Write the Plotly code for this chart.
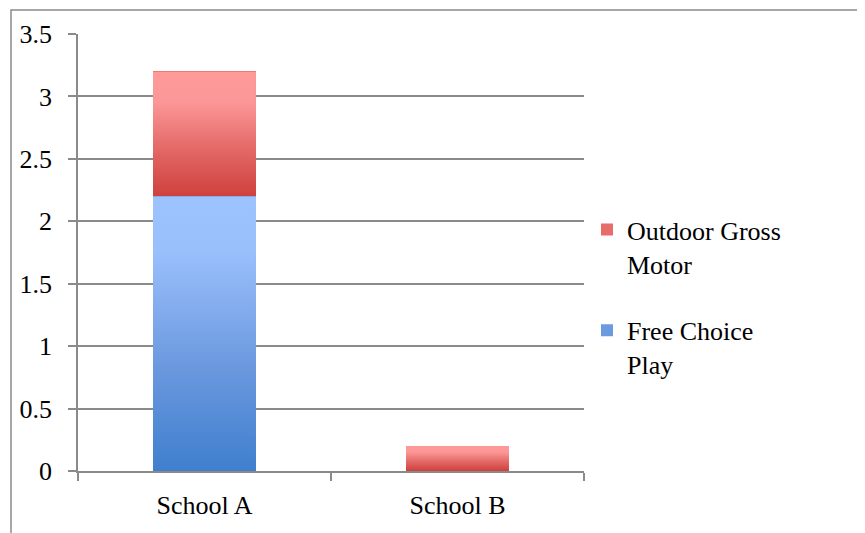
import base64
import plotly.graph_objects as go

# ---- data ----
categories = ["School A", "School B"]
free_choice_play = [2.2, 0.0]
outdoor_gross_motor = [1.0, 0.2]
legend_labels = ["Free Choice<br>Play", "Outdoor Gross<br>Motor"]
y_ticks = [0, 0.5, 1, 1.5, 2, 2.5, 3, 3.5]

# ---- style ----
FONT = "Liberation Serif"
FS = 26
GRID = "#8a8a8a"
BARGAP = 0.593
blue_mid, red_mid = "#6b9ae0", "#e66d6b"
blue_stops = [(0, "#9dc3ff"), (0.2, "#9ac0fc"), (0.6, "#6d9ae0"), (1, "#3f7fcd")]
red_stops = [(0, "#ff9a99"), (0.25, "#fb9796"), (0.6, "#e46b69"), (1, "#cf403d")]

# plot area in screen pixels (page has an 8px body margin)
PL, PR, PT, PB = 78, 584, 32, 471
OFF = 8
PW, PH = PR - PL, PB - PT


def grad_uri(stops):
    st = "".join(f'<stop offset="{o}" stop-color="{c}"/>' for o, c in stops)
    svg = (
        '<svg xmlns="http://www.w3.org/2000/svg" width="10" height="100" viewBox="0 0 10 100" '
        'preserveAspectRatio="none"><defs><linearGradient id="g" x1="0" y1="0" x2="0" y2="1">'
        f'{st}</linearGradient></defs><rect x="0" y="0" width="10" height="100" fill="url(#g)"/></svg>'
    )
    return "data:image/svg+xml;base64," + base64.b64encode(svg.encode()).decode()


fig = go.Figure()
fig.add_trace(go.Bar(x=categories, y=free_choice_play, name=legend_labels[0],
                     marker=dict(color=blue_mid, line=dict(width=0)),
                     legendgroup="b", legendrank=2))
fig.add_trace(go.Bar(x=categories, y=outdoor_gross_motor, name=legend_labels[1],
                     marker=dict(color=red_mid, line=dict(width=0)),
                     legendgroup="r", legendrank=1))

# gradient overlays computed from the data
images = []
bw = 1 - BARGAP
for i, _ in enumerate(categories):
    base = 0.0
    for vals, stops in ((free_choice_play, blue_stops), (outdoor_gross_motor, red_stops)):
        v = vals[i]
        if v > 0:
            images.append(dict(source=grad_uri(stops), xref="x", yref="y",
                               x=i - bw / 2, y=base + v, sizex=bw, sizey=v,
                               xanchor="left", yanchor="top", sizing="stretch",
                               layer="above"))
        base += v

fig.update_layout(
    barmode="stack",
    bargap=BARGAP,
    width=865, height=533,
    margin=dict(l=PL - OFF, r=865 - (PR - OFF), t=PT - OFF, b=533 - (PB - OFF)),
    paper_bgcolor="white", plot_bgcolor="white",
    font=dict(family=FONT, size=FS, color="black"),
    images=images,
    showlegend=True,
    legend=dict(x=(587 - PL) / PW, xanchor="left", y=(PB - 205) / PH, yanchor="top",
                traceorder="grouped", tracegroupgap=30, valign="top",
                font=dict(family=FONT, size=FS), bgcolor="rgba(0,0,0,0)"),
    xaxis=dict(showline=True, linecolor=GRID, linewidth=1.5, ticks="outside",
               tickson="boundaries", ticklen=8, tickcolor=GRID, tickwidth=1.5,
               showgrid=False, ticklabelstandoff=10, tickfont=dict(family=FONT, size=FS)),
    yaxis=dict(range=[0, 3.5], tickvals=y_ticks, showline=True, linecolor=GRID,
               linewidth=1.5, ticks="outside", ticklen=8, tickcolor=GRID, tickwidth=1.5,
               showgrid=True, gridcolor=GRID, gridwidth=1.5, zeroline=False,
               ticklabelstandoff=11, tickfont=dict(family=FONT, size=FS)),
    shapes=[dict(type="rect", xref="paper", yref="paper",
                 x0=(11 - PL) / PW, x1=(900 - PL) / PW,
                 y0=(PB - 560) / PH, y1=(PB - 8) / PH,
                 line=dict(color=GRID, width=1.5), fillcolor="rgba(0,0,0,0)", layer="below")],
)

fig.write_html("out.html")
